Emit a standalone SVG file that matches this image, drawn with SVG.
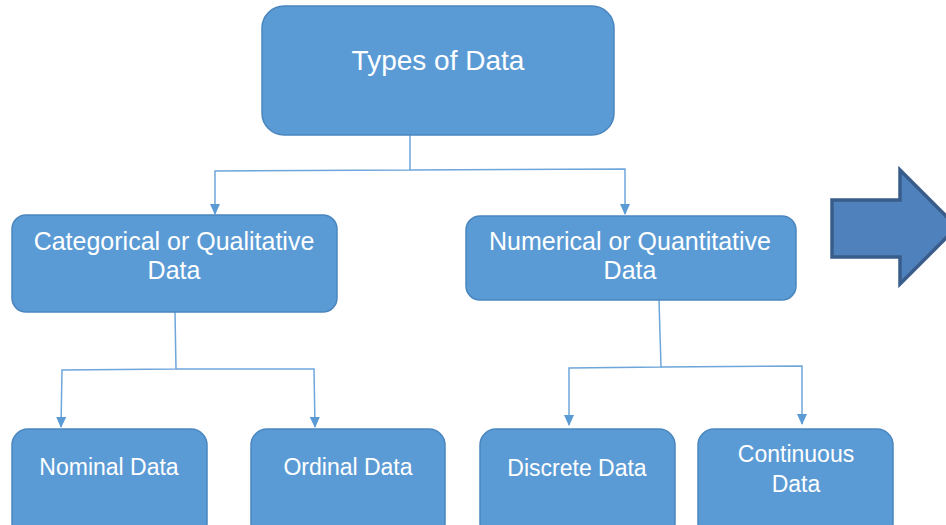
<svg xmlns="http://www.w3.org/2000/svg" width="946" height="525" viewBox="0 0 946 525">
<defs>
<marker id="ah" markerWidth="11" markerHeight="10" refX="10" refY="5" orient="auto" markerUnits="userSpaceOnUse" viewBox="0 0 11 10">
<path d="M0,0 L11,5 L0,10 Z" fill="#5B9BD5"/>
</marker>
</defs>
<style>
.box{fill:#5B9BD5;stroke:#4A86BE;stroke-width:1.5}
.t{fill:#FFFFFF;font-family:"Liberation Sans",Arial,sans-serif;text-anchor:middle}
.conn{fill:none;stroke:#6EA6DA;stroke-width:1.5}
</style>
<rect width="946" height="525" fill="#FFFFFF"/>
<g id="connectors">
<polyline class="conn" points="410,135 410,170 215,171 215,214" marker-end="url(#ah)"/>
<polyline class="conn" points="410,170 625,169 625,214" marker-end="url(#ah)"/>
<polyline class="conn" points="175,312 176,369 62,370 61,427" marker-end="url(#ah)"/>
<polyline class="conn" points="176,369 314,369 315,427" marker-end="url(#ah)"/>
<polyline class="conn" points="659,300 661,367 569,368 569,425" marker-end="url(#ah)"/>
<polyline class="conn" points="661,367 802,366 802,424" marker-end="url(#ah)"/>
</g>
<g id="types">
<rect class="box" x="262" y="6" width="352" height="129" rx="22"/>
<text class="t" x="438" y="70" font-size="28">Types of Data</text>
</g>
<g id="categorical">
<rect class="box" x="12" y="215" width="325" height="97" rx="14"/>
<text class="t" x="174" y="250" font-size="25">Categorical or Qualitative</text>
<text class="t" x="174" y="279" font-size="25">Data</text>
</g>
<g id="numerical">
<rect class="box" x="466" y="216" width="330" height="84" rx="14"/>
<text class="t" x="630" y="250" font-size="25">Numerical or Quantitative</text>
<text class="t" x="630" y="279" font-size="25">Data</text>
</g>
<g id="nominal">
<rect class="box" x="12" y="429" width="195" height="110" rx="16"/>
<text class="t" x="109" y="475" font-size="23">Nominal Data</text>
</g>
<g id="ordinal">
<rect class="box" x="251" y="429" width="194" height="110" rx="16"/>
<text class="t" x="348" y="475" font-size="23">Ordinal Data</text>
</g>
<g id="discrete">
<rect class="box" x="480" y="429" width="195" height="110" rx="16"/>
<text class="t" x="577" y="476" font-size="23">Discrete Data</text>
</g>
<g id="continuous">
<rect class="box" x="698" y="429" width="195" height="110" rx="16"/>
<text class="t" x="796" y="462" font-size="23">Continuous</text>
<text class="t" x="796" y="492" font-size="23">Data</text>
</g>
<g id="bigarrow">
<polygon points="832,200 900,200 900,170 957,227 900,284 900,257 832,257" fill="#4F81BD" stroke="#385D8A" stroke-width="3.5" stroke-linejoin="miter"/>
</g>
</svg>
